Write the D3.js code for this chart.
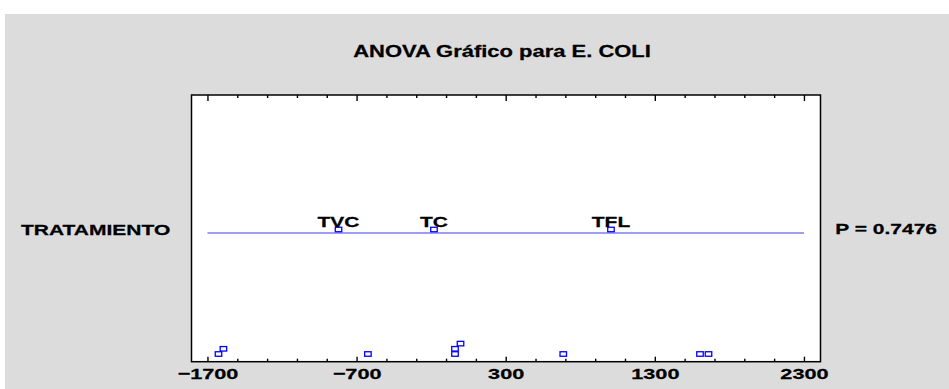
<!DOCTYPE html>
<html>
<head>
<meta charset="utf-8">
<script src="https://cdn.jsdelivr.net/npm/d3@7"></script>
<style>
  body { margin: 0; background: #fff; }
  svg text { font-family: "Liberation Sans", Arial, sans-serif; font-weight: bold; fill: #000; stroke: #000; stroke-width: 0.25px; }
</style>
</head>
<body>
<script>
// data
const title = "ANOVA Gráfico para E. COLI";
const factorName = "TRATAMIENTO";
const pText = "P = 0.7476";
const groups = ["TVC", "TC", "TFL"];
const groupMeans = [-821, -181, 1006];
const residuals = [-1626, -1593, -624, -40, -40, -3, 686, 1603, 1660];
const residualStack = [0, 1, 0, 0, 1, 2, 0, 0, 0];
const xTicks = [-1700, -700, 300, 1300, 2300];
const minorTicks = d3.range(-1700, 2301, 200).filter(v => xTicks.indexOf(v) < 0);

let W = 949, H = 389
    , box = {left: 191.5, right: 820.5, top: 95, bottom: 361.7}
    , stretch = 1.4;   // the original text is wide

let svg = d3.select("body").append("svg")
    .attr("width", W)
    .attr("height", H);

svg.append("rect")
    .attr("x", 5).attr("y", 14)
    .attr("width", W - 5).attr("height", H - 14)
    .attr("fill", "#dcdcdc");

let x = d3.scaleLinear()
    .domain([-1807, 2411])
    .range([box.left, box.right]);

let yLevel = d3.scaleLinear()
    .domain([0, 1])
    .range([354, 348.8]);

let meanY = 229.5, lineY = 233;

svg.append("rect")
    .attr("x", box.left).attr("y", box.top)
    .attr("width", box.right - box.left).attr("height", box.bottom - box.top)
    .attr("fill", "#fff")
    .attr("stroke", "#000")
    .attr("stroke-width", 1.5);

let wideText = (sel, px, py, size, anchor) => sel
    .attr("transform", "translate(" + px + "," + py + ") scale(" + stretch + ",1)")
    .attr("font-size", size + "px")
    .attr("text-anchor", anchor);

svg.append("text").text(title).call(wideText, 502, 57, 15.7, "middle");
svg.append("text").text(factorName).call(wideText, 21, 235, 15, "start");
svg.append("text").text(pText).call(wideText, 937, 234, 15, "end");

// axes, ticks pointing into the box
let axisBits = (g) => {
    g.select(".domain").remove();
    g.selectAll("line").attr("stroke", "#000").attr("stroke-width", 1.4);
};

svg.append("g")
    .attr("transform", "translate(0," + box.bottom + ")")
    .call(d3.axisBottom(x).tickValues(xTicks).tickSizeInner(-5).tickSizeOuter(0).tickPadding(6).tickFormat(d3.format("d")))
    .call(axisBits)
    .call(g => g.selectAll("text")
        .attr("transform", "scale(" + stretch + ",1)")
        .attr("font-size", "15.5px")
        .attr("font-family", null));

svg.append("g")
    .attr("transform", "translate(0," + box.bottom + ")")
    .call(d3.axisBottom(x).tickValues(minorTicks).tickSizeInner(-3).tickSizeOuter(0).tickFormat(""))
    .call(axisBits);

svg.append("g")
    .attr("transform", "translate(0," + box.top + ")")
    .call(d3.axisTop(x).tickValues(xTicks).tickSizeInner(-6).tickSizeOuter(0).tickFormat(""))
    .call(axisBits);

svg.append("g")
    .attr("transform", "translate(0," + box.top + ")")
    .call(d3.axisTop(x).tickValues(minorTicks).tickSizeInner(-3).tickSizeOuter(0).tickFormat(""))
    .call(axisBits);

// factor line
svg.append("line")
    .attr("x1", x(xTicks[0])).attr("x2", x(xTicks[xTicks.length - 1]))
    .attr("y1", lineY).attr("y2", lineY)
    .attr("stroke", "#3c3cf0")
    .attr("stroke-width", 1.1);

let sqW = 6.5, sqH = 4.5;

svg.selectAll(".mean")
    .data(groupMeans)
    .join("rect")
    .attr("class", "mean")
    .attr("x", d => x(d) - sqW / 2)
    .attr("y", meanY - sqH / 2)
    .attr("width", sqW).attr("height", sqH)
    .attr("fill", "#fff")
    .attr("stroke", "#0000ff")
    .attr("stroke-width", 1.3);

svg.selectAll(".glabel")
    .data(groups)
    .join("text")
    .attr("class", "glabel")
    .text(d => d)
    .each(function(d, i) { d3.select(this).call(wideText, x(groupMeans[i]), 227, 15, "middle"); });

svg.selectAll(".resid")
    .data(residuals)
    .join("rect")
    .attr("class", "resid")
    .attr("x", d => x(d) - sqW / 2)
    .attr("y", (d, i) => yLevel(residualStack[i]) - sqH / 2)
    .attr("width", sqW).attr("height", sqH)
    .attr("fill", "#fff")
    .attr("stroke", "#0000ff")
    .attr("stroke-width", 1.3);
</script>
</body>
</html>
